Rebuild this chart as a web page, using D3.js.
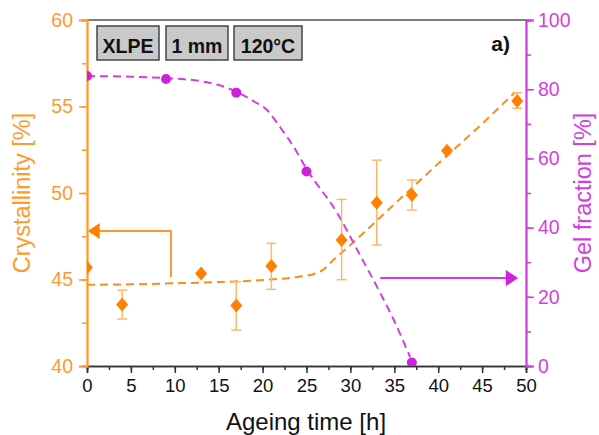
<!DOCTYPE html>
<html><head><meta charset="utf-8">
<script src="https://cdn.jsdelivr.net/npm/d3@7"></script>
<style>body{margin:0;background:#fff}svg{display:block}text{font-family:Arial,"Liberation Sans",sans-serif}</style>
</head><body><svg id="c" width="599" height="435"></svg>
<script>
// Crystallinity data (orange diamonds)
const crystTime = [0, 4, 13, 17, 21, 29, 33, 37, 41, 49];
const crystValue = [45.7, 43.55, 45.35, 43.5, 45.78, 47.28, 49.44, 49.88, 52.44, 55.32];
const crystErrLow = [45.7, 42.72, 45.35, 42.08, 44.43, 44.99, 46.99, 49.02, 52.3, 54.9];
const crystErrHigh = [45.7, 44.39, 45.35, 44.87, 47.09, 49.63, 51.9, 50.75, 52.6, 55.8];
// Gel fraction data (magenta circles)
const gelTime = [0, 9, 17, 25, 37];
const gelValue = [83.8, 82.95, 79.0, 56.2, 1.0];
// Fit curves
const crystFitTime = [0, 5, 10, 15, 20, 24, 26, 27, 28, 30, 35, 40, 45, 48.7];
const crystFitValue = [44.7, 44.72, 44.78, 44.85, 44.97, 45.15, 45.35, 45.6, 46.1, 47.0, 49.35, 51.7, 54.0, 55.8];
const gelFitTime = [0, 5, 9, 13, 15, 17, 19, 20.5, 22, 23.5, 25, 28.5, 31, 33.4, 35, 36.8];
const gelFitValue = [83.8, 83.6, 83.2, 82.3, 81.2, 79.3, 76.5, 74, 69, 63.5, 57, 44.2, 32.5, 21.1, 13, 2.6];
// Ticks
const xTicks = [0, 5, 10, 15, 20, 25, 30, 35, 40, 45, 50];
const yLeftTicks = [40, 45, 50, 55, 60];
const yRightTicks = [0, 20, 40, 60, 80, 100];
const labels = ["XLPE", "1 mm", "120°C"];

const ORANGE = "#ff9a2e", ORANGE_MK = "#ff8000", ORANGE_ERR = "#ffb86b";
const MAG = "#d23fe0", MAG_MK = "#cc22dd";
const DARK = "#333";

const svg = d3.select("#c");
const L = 87, R = 526, T = 20, B = 366;
const x = d3.scaleLinear().domain([0, 50]).range([L, R]);
const yL = d3.scaleLinear().domain([40, 60]).range([B, T]);
const yR = d3.scaleLinear().domain([0, 100]).range([B, T]);

svg.append("defs").append("clipPath").attr("id", "clip")
  .append("rect").attr("x", L).attr("y", T).attr("width", R - L).attr("height", B - T);

// top border
svg.append("line").attr("x1", L).attr("x2", R).attr("y1", T).attr("y2", T).attr("stroke", "#555").attr("stroke-width", 1.5);

// bottom axis
const xMinor = d3.range(0, 50.01, 2.5);
const gx = svg.append("g").attr("transform", `translate(0,${B})`);
gx.call(d3.axisBottom(x).tickValues(xMinor).tickSize(4).tickFormat(""));
gx.call(g => g.selectAll(".tick line").attr("stroke", DARK).attr("stroke-width", 1.5));
const gx2 = svg.append("g").attr("transform", `translate(0,${B})`);
gx2.call(d3.axisBottom(x).tickValues(xTicks).tickSize(7).tickPadding(6).tickFormat(d3.format("d")));
gx2.selectAll(".tick line").attr("stroke", DARK).attr("stroke-width", 1.5);
gx2.selectAll("text").attr("fill", "#111").style("font-size", "18.5px");
[gx, gx2].forEach(g => g.select(".domain").attr("stroke", DARK).attr("stroke-width", 1.5));

// left axis
const gl = svg.append("g").attr("transform", `translate(${L},0)`);
gl.call(d3.axisLeft(yL).tickValues(d3.range(40, 60.01, 2.5)).tickSize(5).tickFormat(""));
const gl2 = svg.append("g").attr("transform", `translate(${L},0)`);
gl2.call(d3.axisLeft(yL).tickValues(yLeftTicks).tickSize(8).tickPadding(6).tickFormat(d3.format("d")));
[gl, gl2].forEach(g => { g.select(".domain").attr("stroke", ORANGE).attr("stroke-width", 1.8); g.selectAll(".tick line").attr("stroke", ORANGE).attr("stroke-width", 1.5); });
gl2.selectAll("text").attr("fill", ORANGE).style("font-size", "19.5px");

// right axis
const gr = svg.append("g").attr("transform", `translate(${R},0)`);
gr.call(d3.axisRight(yR).tickValues(d3.range(0, 100.01, 10)).tickSize(5).tickFormat(""));
const gr2 = svg.append("g").attr("transform", `translate(${R},0)`);
gr2.call(d3.axisRight(yR).tickValues(yRightTicks).tickSize(8).tickPadding(4).tickFormat(d3.format("d")));
[gr, gr2].forEach(g => { g.select(".domain").attr("stroke", MAG).attr("stroke-width", 1.8); g.selectAll(".tick line").attr("stroke", MAG).attr("stroke-width", 1.5); });
gr2.selectAll("text").attr("fill", MAG).style("font-size", "19.5px");

// axis titles
svg.append("text").attr("x", 306).attr("y", 430).attr("text-anchor", "middle")
  .style("font-size", "24px").attr("fill", "#111").text("Ageing time [h]");
svg.append("text").attr("transform", `translate(30,193) rotate(-90)`).attr("text-anchor", "middle")
  .style("font-size", "23.5px").attr("fill", ORANGE).text("Crystallinity [%]");
svg.append("text").attr("transform", `translate(591,193) rotate(-90)`).attr("text-anchor", "middle")
  .style("font-size", "23.5px").attr("fill", MAG).text("Gel fraction [%]");

const plot = svg.append("g").attr("clip-path", "url(#clip)");

// fit lines
const lineC = d3.line().curve(d3.curveMonotoneX).x((d, i) => x(crystFitTime[i])).y(d => yL(d));
plot.append("path").attr("d", lineC(crystFitValue)).attr("fill", "none").attr("stroke", "#ff8c1a")
  .attr("stroke-width", 2).attr("stroke-dasharray", "8,5");
const lineG = d3.line().curve(d3.curveMonotoneX).x((d, i) => x(gelFitTime[i])).y(d => yR(d));
plot.append("path").attr("d", lineG(gelFitValue)).attr("fill", "none").attr("stroke", MAG)
  .attr("stroke-width", 2).attr("stroke-dasharray", "8,5");

// error bars
crystTime.forEach((t, i) => {
  if (crystErrHigh[i] - crystErrLow[i] < 0.5) return;
  const g = plot.append("g").attr("stroke", ORANGE_ERR).attr("stroke-width", 1.5);
  g.append("line").attr("x1", x(t)).attr("x2", x(t)).attr("y1", yL(crystErrLow[i])).attr("y2", yL(crystErrHigh[i]));
  [crystErrLow[i], crystErrHigh[i]].forEach(v => g.append("line").attr("x1", x(t) - 5).attr("x2", x(t) + 5).attr("y1", yL(v)).attr("y2", yL(v)));
});

// diamonds
plot.selectAll(".dia").data(crystValue).join("path")
  .attr("transform", (d, i) => `translate(${x(crystTime[i])},${yL(d)})`)
  .attr("d", "M0,-7L6,0L0,7L-6,0Z").attr("fill", ORANGE_MK);

// circles
plot.selectAll(".cir").data(gelValue).join("circle")
  .attr("cx", (d, i) => x(gelTime[i])).attr("cy", d => yR(d)).attr("r", 5).attr("fill", MAG_MK);

// arrows
svg.append("path").attr("d", `M${x(9.57)},${yL(45.14)}V${yL(47.8)}H${x(1.3)}`)
  .attr("fill", "none").attr("stroke", ORANGE).attr("stroke-width", 2);
svg.append("path").attr("d", `M${x(0.1)},${yL(47.8)}L${x(1.45)},${yL(47.8) - 8}L${x(1.45)},${yL(47.8) + 8}Z`).attr("fill", ORANGE_MK);
svg.append("path").attr("d", `M${x(33.4)},${yR(25.4)}H${x(48)}`)
  .attr("fill", "none").attr("stroke", MAG).attr("stroke-width", 2);
svg.append("path").attr("d", `M${x(49.1)},${yR(25.4)}L${x(47.7)},${yR(25.4) - 8}L${x(47.7)},${yR(25.4) + 8}Z`).attr("fill", MAG_MK);

// label boxes
const boxX = [97, 166, 234], boxW = [62, 62, 68];
labels.forEach((s, i) => {
  svg.append("rect").attr("x", boxX[i]).attr("y", 26).attr("width", boxW[i]).attr("height", 34)
    .attr("fill", "#c9c9c9").attr("stroke", "#444").attr("stroke-width", 1.5);
  svg.append("text").attr("x", boxX[i] + boxW[i] / 2).attr("y", 52.5).attr("text-anchor", "middle")
    .style("font-size", "19.5px").style("font-weight", "bold").attr("fill", "#111").text(s);
});
svg.append("text").attr("x", 510).attr("y", 51).attr("text-anchor", "end")
  .style("font-size", "21px").style("font-weight", "bold").attr("fill", "#111").text("a)");
</script></body></html>
